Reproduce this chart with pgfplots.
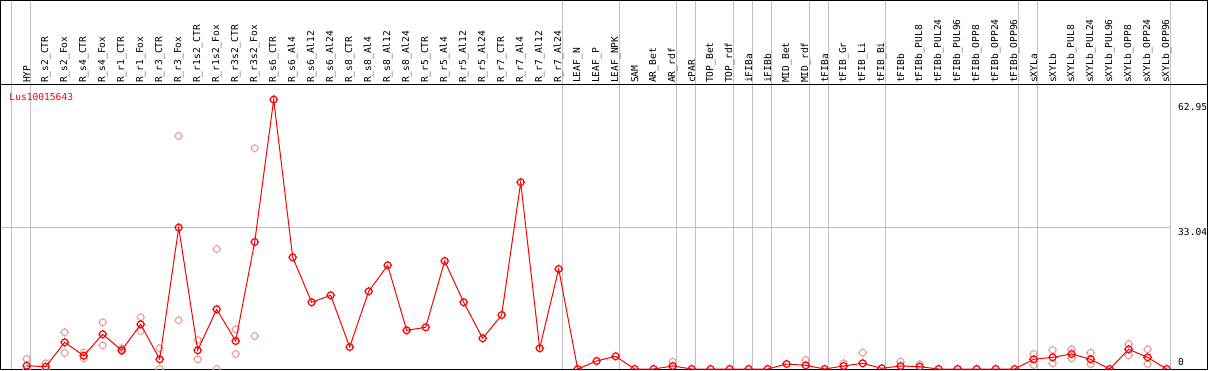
\documentclass[border=0pt]{standalone}
\usepackage{fontspec}
\setmainfont{DejaVu Sans Mono}
\usepackage{pgfplots}
\pgfplotsset{compat=1.18}
\definecolor{gridc}{RGB}{192,192,192}
\definecolor{pinkc}{RGB}{236,150,150}
\pgfdeclareplotmark{tring}{%
  \pgfpathcircle{\pgfpointorigin}{\pgfplotmarksize}%
  \pgfpathmoveto{\pgfqpoint{\pgfplotmarksize}{0pt}}\pgfpathlineto{\pgfqpoint{1.3\pgfplotmarksize}{0pt}}%
  \pgfpathmoveto{\pgfqpoint{-\pgfplotmarksize}{0pt}}\pgfpathlineto{\pgfqpoint{-1.3\pgfplotmarksize}{0pt}}%
  \pgfpathmoveto{\pgfqpoint{0pt}{\pgfplotmarksize}}\pgfpathlineto{\pgfqpoint{0pt}{1.3\pgfplotmarksize}}%
  \pgfpathmoveto{\pgfqpoint{0pt}{-\pgfplotmarksize}}\pgfpathlineto{\pgfqpoint{0pt}{-1.3\pgfplotmarksize}}%
  \pgfusepathqstroke}
\newcommand{\lblfont}{\fontsize{9.6}{10}\selectfont}
\begin{document}
\begin{tikzpicture}
\begin{axis}[
  at={(1pt,1pt)}, anchor=south west,
  scale only axis, width=1206.5pt, height=368.5pt,
  xmin=-1.353, xmax=62.15, ymin=0, ymax=86.1,
  axis line style={black, line width=1pt},
  xtick={0,...,60},
  xticklabels={HYP, R\_s2\_CTR, R\_s2\_Fox, R\_s4\_CTR, R\_s4\_Fox, R\_r1\_CTR, R\_r1\_Fox, R\_r3\_CTR, R\_r3\_Fox, R\_r1s2\_CTR, R\_r1s2\_Fox, R\_r3s2\_CTR, R\_r3s2\_Fox, R\_s6\_CTR, R\_s6\_Al4, R\_s6\_Al12, R\_s6\_Al24, R\_s8\_CTR, R\_s8\_Al4, R\_s8\_Al12, R\_s8\_Al24, R\_r5\_CTR, R\_r5\_Al4, R\_r5\_Al12, R\_r5\_Al24, R\_r7\_CTR, R\_r7\_Al4, R\_r7\_Al12, R\_r7\_Al24, LEAF\_N, LEAF\_P, LEAF\_NPK, SAM, AR\_Bet, AR\_rdf, cPAR, TOP\_Bet, TOP\_rdf, iFIBa, iFIBb, MID\_Bet, MID\_rdf, tFIBa, tFIB\_Gr, tFIB\_Li, tFIB\_Bi, tFIBb, tFIBb\_PUL8, tFIBb\_PUL24, tFIBb\_PUL96, tFIBb\_OPP8, tFIBb\_OPP24, tFIBb\_OPP96, sXYLa, sXYLb, sXYLb\_PUL8, sXYLb\_PUL24, sXYLb\_PUL96, sXYLb\_OPP8, sXYLb\_OPP24, sXYLb\_OPP96},
  xticklabel pos=upper,
  xticklabel style={yshift=-82.5pt, rotate=90, anchor=west, inner sep=0pt, font=\lblfont},
  major tick length=0pt,
  minor xtick={-0.8,0.2,28.2,31.2,34.2,35.2,37.2,38.2,39.2,41.2,42.2,45.2,52.2,53.2,60.2},
  minor tick length=0pt,
  xminorgrids, minor grid style={gridc, line width=1pt},
  ytick={0,33.04,62.95},
  yticklabels={\raisebox{4pt}{0}, \raisebox{-8.4pt}{33.04}, \raisebox{-11.4pt}{62.95}},
  yticklabel pos=right,
  yticklabel style={anchor=base west, inner sep=0pt, xshift=-29.5pt, font=\lblfont},
  clip marker paths=true,
]
\draw[gridc, line width=1pt] (axis cs:-1.353,33.04) -- (axis cs:60.2,33.04);
\draw[black, line width=1pt] (axis cs:-1.353,66.36) -- (axis cs:62.15,66.36);
\node[red, anchor=base west, inner sep=0pt, font=\lblfont, xshift=8.3pt, yshift=-100.5pt] at (rel axis cs:0,1) {Lus10015643};

\addplot[only marks, mark=tring, mark size=3.4pt, draw=pinkc, line width=1pt] coordinates {
(0,2.34) (0,0) (1,1.33) (1,0) (2,8.57) (2,3.74) (3,3.81) (3,2.5) (4,10.91) (4,5.54)
(5,4.84) (5,4.14) (6,12.08) (6,8.88) (7,4.84) (7,0) (8,54.44) (8,11.38) (9,6.78) (9,2.27)
(10,28.04) (10,0) (11,9.28) (11,3.5) (12,51.57) (12,7.71)
(34,1.71) (41,2.1) (43,1.33) (44,3.81) (46,1.71) (47,1.1)
(53,3.5) (53,0.93) (54,4.44) (54,1.33) (55,4.6) (55,2.5) (56,3.81) (56,1.17)
(58,5.84) (58,3.2) (59,4.6) (59,1.17)
};
\addplot[red, line width=1pt, mark=tring, mark size=3.4pt, mark options={solid, line width=1.2pt}] coordinates {
(0,0.77) (1,0.54) (2,6.24) (3,3.11) (4,8.11) (5,4.37) (6,10.44) (7,2.27) (8,33.04) (9,4.39)
(10,13.95) (11,6.54) (12,29.67) (13,62.95) (14,26.1) (15,15.58) (16,17.22) (17,5.14) (18,18.15) (19,24.23)
(20,9.04) (21,9.74) (22,25.23) (23,15.58) (24,7.17) (25,12.62) (26,43.62) (27,4.84) (28,23.36) (29,0)
(30,1.87) (31,2.97) (32,0) (33,0) (34,0.7) (35,0) (36,0) (37,0) (38,0) (39,0)
(40,1.17) (41,0.86) (42,0) (43,0.7) (44,1.33) (45,0.16) (46,0.7) (47,0.54) (48,0) (49,0)
(50,0) (51,0) (52,0) (53,2.27) (54,2.73) (55,3.5) (56,2.27) (57,0) (58,4.6) (59,2.73)
(60,0)
};
\end{axis}
\pgfresetboundingbox
\path[use as bounding box] (0,0) rectangle (1209pt,370pt);
\end{tikzpicture}
\end{document}
